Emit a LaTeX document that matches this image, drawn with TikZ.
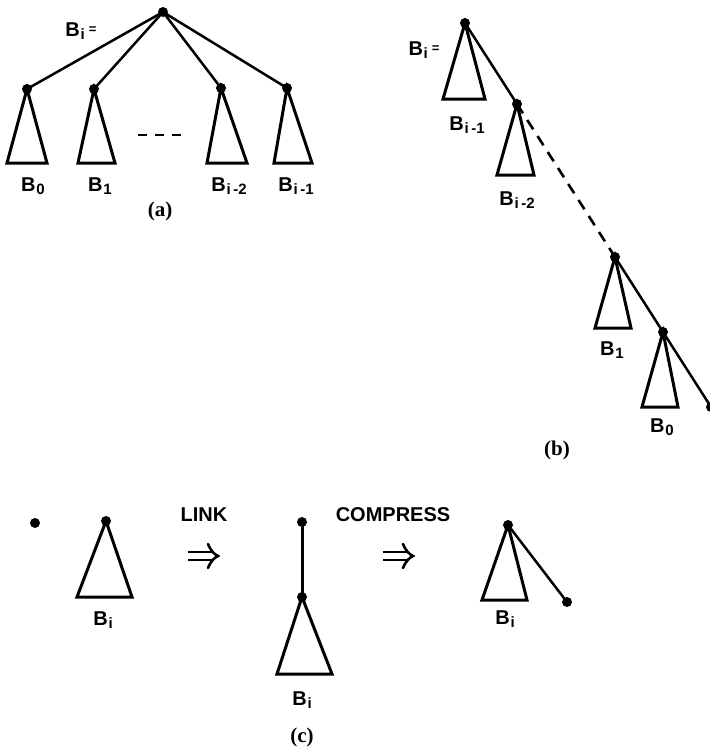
\documentclass[tikz,border=0pt]{standalone}
\usepackage{fontspec}
\setmainfont{Liberation Serif}
\newfontfamily\lblfont{Liberation Sans}
\newcommand\Bsub[1]{B\kern0.8pt\raisebox{-3.5pt}{\fontsize{15}{15}\selectfont #1}}
\newcommand\Beq{\Bsub{i}\kern4pt\raisebox{3pt}{\fontsize{13}{13}\selectfont =}}
\tikzset{
  dot/.style={circle,fill=black,inner sep=0pt,minimum size=10pt},
  edge/.style={line width=2.5pt,line cap=round},
  tri/.style={line width=3pt,line join=miter},
  lbl/.style={font=\lblfont\bfseries\fontsize{20}{20}\selectfont,inner sep=0pt},
  captxt/.style={font=\bfseries\fontsize{21}{21}\selectfont,inner sep=0pt},
  dashline/.style={line width=2.6pt,dash pattern=on 11pt off 8pt},
  implies/.pic={
    \draw[line width=2.6pt] (-15,-4) -- (11,-4) (-15,4) -- (11,4);
    \draw[line width=2.6pt,line cap=round] (5,-12) .. controls (8,-5) and (11,-2) .. (15,0)
      .. controls (11,2) and (8,5) .. (5,12);
  }
}
\begin{document}
\begin{tikzpicture}[x=1pt,y=-1pt]
\useasboundingbox (0,0) rectangle (710,753);
% ---------- (a)
\node[dot] (ar) at (163,12) {};
\node[dot] (a0) at (27,89) {};
\node[dot] (a1) at (94,89) {};
\node[dot] (a2) at (221,88) {};
\node[dot] (a3) at (287,88) {};
\foreach \c in {a0,a1,a2,a3} \draw[edge] (ar.center) -- (\c.center);
\draw[tri] (a0.center) -- (7,163) -- (47,163) -- cycle;
\draw[tri] (a1.center) -- (78,163) -- (115,163) -- cycle;
\draw[tri] (a2.center) -- (207,163) -- (247,163) -- cycle;
\draw[tri] (a3.center) -- (274,163) -- (312,163) -- cycle;
\coordinate (ad1) at (138,135);
\coordinate (ad2) at (182,135);
\draw[line width=2.8pt,dash pattern=on 9pt off 8pt] (ad1) -- (ad2);
\node[lbl] (la) at (81,31) {\Beq};
\node[lbl] (la0) at (33,186) {\Bsub{0}};
\node[lbl] (la1) at (100,186) {\Bsub{1}};
\node[lbl] (la2) at (229,186) {\Bsub{i\,-2}};
\node[lbl] (la3) at (296,186) {\Bsub{i\,-1}};
\node[captxt] (capa) at (160,211) {(a)};
% ---------- (b)
\node[dot] (br) at (465,23) {};
\node[dot] (b1) at (517,104) {};
\node[dot] (b2) at (615,257) {};
\node[dot] (b3) at (663,332) {};
\node[dot] (b4) at (711,407) {};
\draw[edge] (br.center) -- (b1.center);
\draw[dashline] (b1.center) -- (b2.center);
\draw[edge] (b2.center) -- (b3.center) -- (b4.center);
\draw[tri] (br.center) -- (443,99) -- (485,99) -- cycle;
\draw[tri] (b1.center) -- (497,175) -- (534,175) -- cycle;
\draw[tri] (b2.center) -- (595,328) -- (631,328) -- cycle;
\draw[tri] (b3.center) -- (642,407) -- (678,407) -- cycle;
\node[lbl] (lb) at (424,50) {\Beq};
\node[lbl] (lb1) at (467,125) {\Bsub{i\,-1}};
\node[lbl] (lb2) at (517,200) {\Bsub{i\,-2}};
\node[lbl] (lb3) at (612,350) {\Bsub{1}};
\node[lbl] (lb4) at (662,427) {\Bsub{0}};
\node[captxt] (capb) at (557,450) {(b)};
% ---------- (c)
\node[dot] (c0) at (35,523) {};
\node[dot] (c1) at (106,521) {};
\draw[tri] (c1.center) -- (77,597) -- (132,597) -- cycle;
\node[lbl] (lc1) at (103,620) {\Bsub{i}};
\node[lbl] (link) at (204,515) {LINK};
\pic at (203,556) {implies};
\node[dot] (m0) at (302,522) {};
\node[dot] (m1) at (302,597) {};
\draw[tri] (m0.center) -- (m1.center);
\draw[tri] (m1.center) -- (277,674) -- (332,674) -- cycle;
\node[lbl] (lm) at (302,700) {\Bsub{i}};
\node[captxt] (capc) at (302,737) {(c)};
\node[lbl] (comp) at (393,515) {COMPRESS};
\pic at (398,556) {implies};
\node[dot] (r0) at (508,525) {};
\node[dot] (r1) at (567,602) {};
\draw[tri] (r0.center) -- (482,600) -- (527,600) -- cycle;
\draw[edge] (r0.center) -- (r1.center);
\node[lbl] (lr) at (505,619) {\Bsub{i}};
\end{tikzpicture}
\end{document}
